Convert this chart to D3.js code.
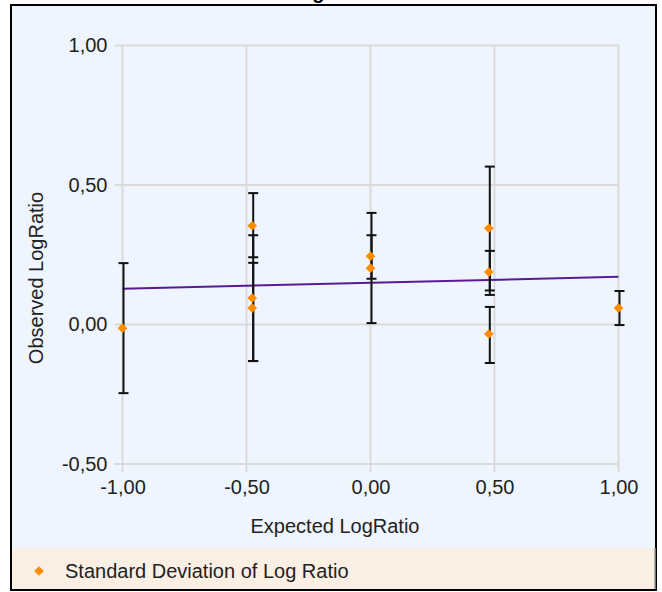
<!DOCTYPE html>
<html><head><meta charset="utf-8">
<script src="https://cdn.jsdelivr.net/npm/d3@7"></script>
<style>html,body{margin:0;padding:0;background:#fff;}svg{display:block;}</style>
</head><body>
<script>
const titleText = "Log Ratio";
const xLabel = "Expected LogRatio";
const yLabel = "Observed LogRatio";
const legendLabel = "Standard Deviation of Log Ratio";
const xTicks = [-1, -0.5, 0, 0.5, 1];
const yTicks = [-0.5, 0, 0.5, 1];
const expected = [-1, -0.477, -0.477, -0.477, 0, 0, 0.477, 0.477, 0.477, 1];
const observed = [-0.013, 0.354, 0.095, 0.059, 0.245, 0.202, 0.345, 0.188, -0.034, 0.059];
const errLow  = [-0.246, 0.241, -0.131, -0.131, 0.164, 0.005, 0.122, 0.106, -0.138, -0.002];
const errHigh = [0.220, 0.471, 0.320, 0.221, 0.320, 0.400, 0.566, 0.264, 0.063, 0.120];
const trendX = [-1, 1];
const trendY = [0.128, 0.171];

const W = 662, H = 592;
const svg = d3.select("body").append("svg").attr("width", W).attr("height", H);
const font = "'Liberation Sans', Arial, sans-serif";

// title (mostly clipped above the frame, as in the original)
svg.append("text").attr("x", 334).attr("y", -1).attr("text-anchor", "middle")
  .attr("font-family", font).attr("font-size", 20).attr("font-weight", "bold")
  .attr("fill", "#000").text(titleText);

// frame
svg.append("rect").attr("x", 11).attr("y", 5).attr("width", 645).attr("height", 585)
  .attr("fill", "#eef5fe").attr("stroke", "#000").attr("stroke-width", 2);
// legend band
svg.append("rect").attr("x", 12).attr("y", 548).attr("width", 642).attr("height", 41)
  .attr("fill", "#fbeee3");
svg.append("line").attr("x1", 655).attr("x2", 655).attr("y1", 548).attr("y2", 589)
  .attr("stroke", "#9a9a9a").attr("stroke-width", 1.5);

const x = d3.scaleLinear().domain([-1, 1]).range([122.5, 618.5]);
const y = d3.scaleLinear().domain([-0.5, 1]).range([464, 45.5]);

const grid = svg.append("g");
grid.selectAll("line.v").data(xTicks).join("line")
  .attr("x1", d => x(d)).attr("x2", d => x(d)).attr("y1", y(1)).attr("y2", y(-0.5) + 8)
  .attr("stroke", "#dadada").attr("stroke-width", 2);
grid.selectAll("line.h").data(yTicks).join("line")
  .attr("x1", x(-1) - 8).attr("x2", x(1)).attr("y1", d => y(d)).attr("y2", d => y(d))
  .attr("stroke", "#dadada").attr("stroke-width", 2);

const fmt = d => d.toFixed(2).replace(".", ",");
const xAxis = svg.append("g").attr("transform", `translate(0,${y(-0.5) + 8})`)
  .call(d3.axisBottom(x).tickValues(xTicks).tickFormat(fmt).tickSize(0).tickPadding(8));
const yAxis = svg.append("g").attr("transform", `translate(${x(-1) - 8},0)`)
  .call(d3.axisLeft(y).tickValues(yTicks).tickFormat(fmt).tickSize(0).tickPadding(7));
[xAxis, yAxis].forEach(a => {
  a.select(".domain").remove();
  a.selectAll("text").attr("font-family", font).attr("font-size", 20).attr("fill", "#222");
});

svg.append("text").attr("x", 335).attr("y", 533).attr("text-anchor", "middle")
  .attr("font-family", font).attr("font-size", 20).attr("fill", "#222").text(xLabel);
svg.append("text").attr("transform", "translate(43,278) rotate(-90)").attr("text-anchor", "middle")
  .attr("font-family", font).attr("font-size", 20).attr("fill", "#222").text(yLabel);

// trend line
svg.append("path").datum(trendX.map((d, i) => [d, trendY[i]]))
  .attr("d", d3.line().x(d => x(d[0])).y(d => y(d[1])))
  .attr("fill", "none").attr("stroke", "#5a1a96").attr("stroke-width", 2);

// error bars
const idx = d3.range(expected.length);
const eb = svg.append("g").attr("stroke", "#111").attr("stroke-width", 2);
eb.selectAll("line.bar").data(idx).join("line")
  .attr("x1", i => x(expected[i]) + 1).attr("x2", i => x(expected[i]) + 1)
  .attr("y1", i => y(errLow[i])).attr("y2", i => y(errHigh[i]));
eb.selectAll("line.lo").data(idx).join("line")
  .attr("x1", i => x(expected[i]) - 4).attr("x2", i => x(expected[i]) + 6)
  .attr("y1", i => y(errLow[i])).attr("y2", i => y(errLow[i]));
eb.selectAll("line.hi").data(idx).join("line")
  .attr("x1", i => x(expected[i]) - 4).attr("x2", i => x(expected[i]) + 6)
  .attr("y1", i => y(errHigh[i])).attr("y2", i => y(errHigh[i]));

// points (diamonds)
const diamond = d3.symbol().type(d3.symbolDiamond2).size(60);
svg.append("g").selectAll("path").data(idx).join("path")
  .attr("d", diamond)
  .attr("transform", i => `translate(${x(expected[i])},${y(observed[i])})`)
  .attr("fill", "#ff8c00");

// legend
svg.append("path").attr("d", diamond).attr("transform", "translate(39,571)").attr("fill", "#ff8c00");
svg.append("text").attr("x", 65).attr("y", 578).attr("font-family", font).attr("font-size", 20)
  .attr("fill", "#222").text(legendLabel);
</script>
</body></html>
